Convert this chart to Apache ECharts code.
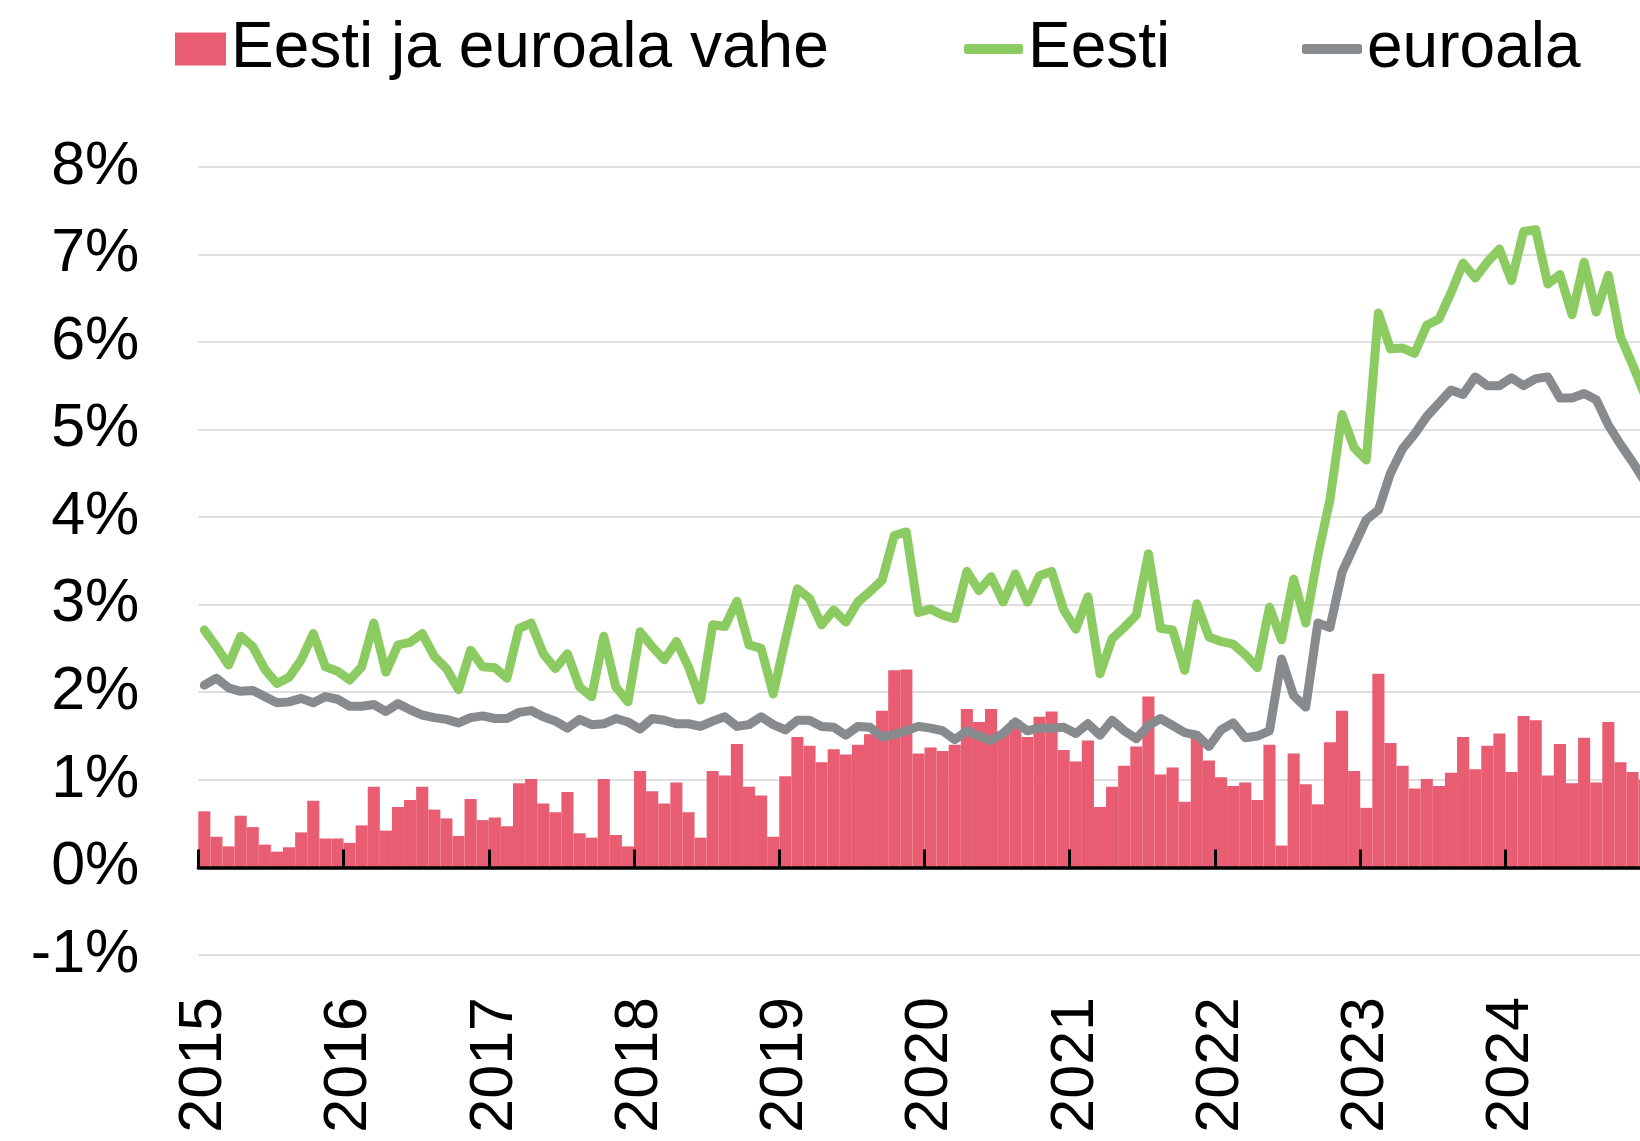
<!DOCTYPE html>
<html>
<head>
<meta charset="utf-8">
<script src="https://cdn.jsdelivr.net/npm/echarts@6/dist/echarts.min.js"></script>
<style>
html,body{margin:0;padding:0;background:#fff;}
#chart{width:1640px;height:1141px;}
</style>
</head>
<body>
<div id="chart"></div>
<script>
const years = ['2015','2016','2017','2018','2019','2020','2021','2022','2023','2024'];
const yTicks = [-1,0,1,2,3,4,5,6,7,8];

const eesti = [
  2.71,2.52,2.31,2.64,2.52,2.26,2.10,2.17,2.37,2.67,2.29,2.24,
  2.14,2.29,2.79,2.23,2.54,2.57,2.67,2.41,2.27,2.03,2.48,2.29,
  2.28,2.16,2.73,2.79,2.44,2.27,2.44,2.06,1.95,2.64,2.06,1.89,
  2.69,2.52,2.37,2.58,2.29,1.91,2.77,2.75,3.04,2.54,2.50,1.98,
  2.60,3.18,3.07,2.77,2.94,2.80,3.03,3.15,3.28,3.79,3.83,2.91,
  2.95,2.88,2.84,3.38,3.16,3.32,3.03,3.35,3.03,3.33,3.38,2.94,
  2.72,3.09,2.21,2.61,2.74,2.88,3.58,2.73,2.71,2.25,3.01,2.63,
  2.58,2.55,2.43,2.28,2.97,2.60,3.29,2.79,3.56,4.20,5.17,4.79,
  4.65,6.33,5.92,5.93,5.87,6.19,6.26,6.56,6.90,6.73,6.91,7.06,
  6.70,7.26,7.28,6.66,6.77,6.31,6.91,6.34,6.76,6.06,5.74,5.40
];
const euroala = [
  2.08,2.16,2.05,2.01,2.02,1.95,1.88,1.89,1.93,1.88,1.95,1.92,
  1.84,1.84,1.86,1.78,1.87,1.80,1.74,1.71,1.69,1.65,1.71,1.73,
  1.70,1.70,1.77,1.79,1.72,1.67,1.59,1.69,1.63,1.64,1.70,1.66,
  1.58,1.70,1.68,1.64,1.64,1.61,1.67,1.72,1.61,1.63,1.72,1.63,
  1.57,1.68,1.68,1.61,1.60,1.51,1.61,1.60,1.49,1.52,1.56,1.61,
  1.59,1.56,1.46,1.56,1.50,1.45,1.53,1.66,1.56,1.59,1.59,1.60,
  1.53,1.64,1.51,1.68,1.56,1.47,1.62,1.70,1.62,1.54,1.51,1.38,
  1.57,1.65,1.48,1.50,1.56,2.38,1.96,1.83,2.79,2.74,3.37,3.67,
  3.97,4.08,4.50,4.78,4.95,5.15,5.30,5.45,5.40,5.60,5.50,5.50,
  5.59,5.50,5.58,5.60,5.36,5.36,5.41,5.34,5.05,4.83,4.63,4.41
];
const vahe = [
  0.64,0.35,0.24,0.59,0.46,0.26,0.18,0.23,0.40,0.76,0.33,0.33,
  0.28,0.48,0.92,0.42,0.69,0.77,0.92,0.66,0.56,0.36,0.78,0.54,
  0.57,0.47,0.96,1.01,0.73,0.63,0.86,0.39,0.34,1.01,0.37,0.24,
  1.10,0.87,0.73,0.97,0.63,0.34,1.10,1.05,1.41,0.92,0.82,0.35,
  1.04,1.49,1.39,1.20,1.35,1.29,1.40,1.52,1.79,2.25,2.26,1.30,
  1.37,1.33,1.40,1.81,1.66,1.81,1.55,1.68,1.49,1.72,1.78,1.34,
  1.21,1.45,0.69,0.92,1.16,1.38,1.95,1.06,1.14,0.75,1.48,1.22,
  1.03,0.93,0.97,0.77,1.40,0.25,1.30,0.95,0.72,1.43,1.79,1.10,
  0.68,2.21,1.42,1.16,0.90,1.01,0.93,1.08,1.49,1.12,1.39,1.53,
  1.09,1.73,1.68,1.05,1.41,0.96,1.48,0.97,1.66,1.20,1.09,1.00
];

const months = [];
years.forEach(y => { for (let m = 1; m <= 12; m++) months.push(y + '-' + (m < 10 ? '0' + m : m)); });

const FONT = '"Liberation Sans", Arial, sans-serif';
const RED = '#E85D72', GREEN = '#8CCB62', GREY = '#878B8D';

const chart = echarts.init(document.getElementById('chart'), null, {renderer: 'canvas'});
chart.setOption({
  animation: false,
  backgroundColor: '#fff',
  textStyle: {fontFamily: FONT},
  legend: [
    {data: [{name: 'Eesti ja euroala vahe', icon: 'rect'}], left: 175, top: 14, padding: 0,
     itemWidth: 51, itemHeight: 33,
     textStyle: {fontSize: 64, color: '#000', fontFamily: FONT, lineHeight: 70}},
    {data: [{name: 'Eesti', icon: 'roundRect'}], left: 964, top: 14, padding: 0,
     itemWidth: 59, itemHeight: 10,
     textStyle: {fontSize: 64, color: '#000', fontFamily: FONT, lineHeight: 70}},
    {data: [{name: 'euroala', icon: 'roundRect'}], left: 1302, top: 14, padding: 0,
     itemWidth: 60, itemHeight: 10,
     textStyle: {fontSize: 64, color: '#000', fontFamily: FONT, lineHeight: 70}}
  ],
  grid: {left: 198.3, right: -10.7, top: 166.7, bottom: 186, containLabel: false, outerBoundsMode: 'none'},
  xAxis: [
    {type: 'category', data: months, position: 'bottom', boundaryGap: true,
     axisLine: {show: true, onZero: true, lineStyle: {color: '#000', width: 3.5}},
     axisTick: {show: true, inside: true, length: 18, interval: (i) => i % 12 === 0,
                lineStyle: {color: '#000', width: 3}},
     axisLabel: {show: false}, splitLine: {show: false}, z: 10},
    {type: 'category', data: months, position: 'bottom', boundaryGap: true,
     axisLine: {show: false, onZero: false}, axisTick: {show: false},
     axisLabel: {show: true, interval: (i) => i % 12 === 0, rotate: 90, margin: 42,
                 fontSize: 61, color: '#000', fontFamily: FONT,
                 formatter: (v) => v.slice(0, 4)},
     splitLine: {show: false}}
  ],
  yAxis: {type: 'value', min: -1, max: 8, interval: 1,
    axisLine: {show: false}, axisTick: {show: false},
    axisLabel: {formatter: (v) => v + '%', fontSize: 61, color: '#000', margin: 59, fontFamily: FONT},
    splitLine: {show: true, lineStyle: {color: '#D4D4D4', width: 1.5}}
  },
  series: [
    {name: 'Eesti ja euroala vahe', type: 'bar', xAxisIndex: 0, data: vahe,
     barCategoryGap: '0%', itemStyle: {color: RED}, z: 2},
    {name: 'Eesti', type: 'line', xAxisIndex: 0, data: eesti, showSymbol: false, symbol: 'none',
     itemStyle: {color: GREEN}, lineStyle: {color: GREEN, width: 9, cap: 'round', join: 'round'}, z: 3},
    {name: 'euroala', type: 'line', xAxisIndex: 0, data: euroala, showSymbol: false, symbol: 'none',
     itemStyle: {color: GREY}, lineStyle: {color: GREY, width: 9, cap: 'round', join: 'round'}, z: 4}
  ]
});
</script>
</body>
</html>
